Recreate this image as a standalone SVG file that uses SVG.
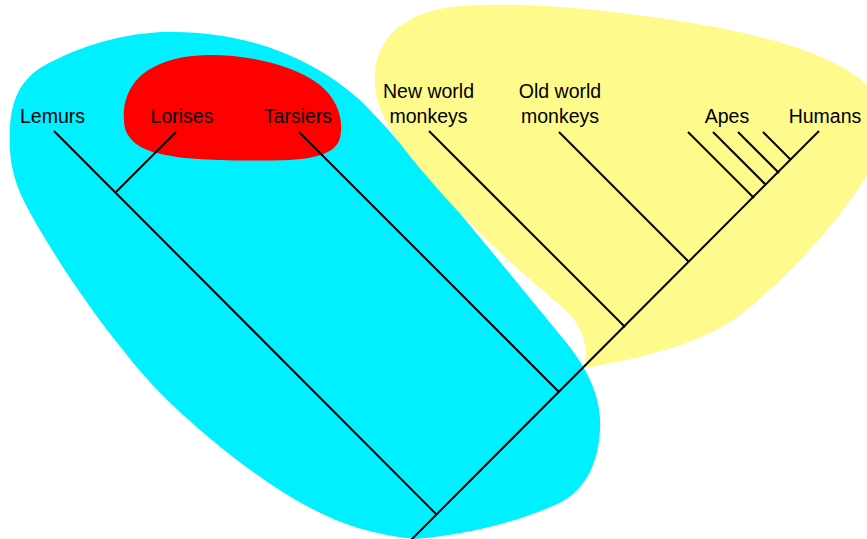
<svg xmlns="http://www.w3.org/2000/svg" width="867" height="539" viewBox="0 0 867 539">
  <style>
    .lbl { font-family: "Liberation Sans", Arial, sans-serif; font-size: 19.5px; fill: #000; text-anchor: middle; }
    .edge { stroke: #000; stroke-width: 2; fill: none; stroke-linecap: butt; }
  </style>
  <rect width="867" height="539" fill="#fff"/>
  <g id="regions">
    <path id="region-prosimians" fill="#00F0FF" d="M 10,150 C 8,110 15,85 40,68 C 80,45 125,33 165,32 C 240,30 310,55 360,100 C 410,150 490,250 560,335 C 590,370 602,400 600,430 C 598,470 580,495 555,505 C 510,525 460,535 415,539 C 340,532 290,500 233,457 C 180,415 150,385 123,350 C 90,310 50,250 27,207 C 17,188 11,170 10,150 Z"/>
    <path id="region-haplorhini-strep" fill="#FF0000" d="M 124,120 C 122,100 132,78 152,68 C 170,58 190,55 210,55 C 250,55 295,65 320,85 C 338,100 344,120 340,138 C 336,152 320,158 290,160 C 260,161 220,161 185,158 C 160,155 140,150 132,140 C 126,134 124,127 124,120 Z"/>
    <path id="region-anthropoids" fill="#FFFA8C" d="M 585,368 C 590,340 578,320 560,305 C 530,280 470,228 430,180 C 395,140 372,110 375,72 C 378,40 400,15 450,7 C 520,0 620,10 720,28 C 790,42 840,60 867,85 L 867,175 C 840,220 790,275 740,315 C 700,345 640,358 585,368 Z"/>
  </g>
  <g id="connectors">
    <line class="edge" x1="410" y1="541" x2="819" y2="131"/>
    <line class="edge" x1="54" y1="131" x2="437" y2="515"/>
    <line class="edge" x1="176" y1="132" x2="116" y2="192"/>
    <line class="edge" x1="299" y1="132" x2="559" y2="392"/>
    <line class="edge" x1="429" y1="131" x2="625" y2="327"/>
    <line class="edge" x1="559" y1="132" x2="689" y2="262"/>
    <line class="edge" x1="688" y1="132" x2="754" y2="198"/>
    <line class="edge" x1="713" y1="132" x2="766" y2="185"/>
    <line class="edge" x1="738" y1="132" x2="779" y2="173"/>
    <line class="edge" x1="763" y1="132" x2="791" y2="160"/>
  </g>
  <g id="node-lemurs"><text class="lbl" x="52.5" y="123">Lemurs</text></g>
  <g id="node-lorises"><text class="lbl" x="182" y="123">Lorises</text></g>
  <g id="node-tarsiers"><text class="lbl" x="298" y="123">Tarsiers</text></g>
  <g id="node-new-world"><text class="lbl" x="428.5" y="98">New world</text><text class="lbl" x="428.5" y="123">monkeys</text></g>
  <g id="node-old-world"><text class="lbl" x="560" y="98">Old world</text><text class="lbl" x="560" y="123">monkeys</text></g>
  <g id="node-apes"><text class="lbl" x="727" y="123">Apes</text></g>
  <g id="node-humans"><text class="lbl" x="825" y="123">Humans</text></g>
</svg>
